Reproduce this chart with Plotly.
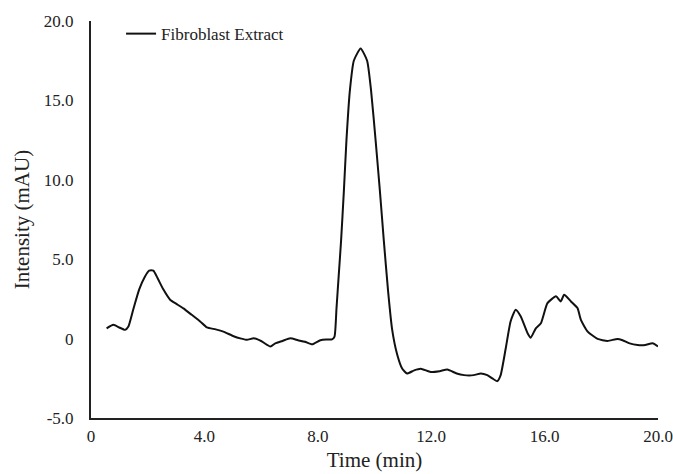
import plotly.graph_objects as go

series_name = "Fibroblast Extract"
time_min = [0.55, 0.79, 1.0, 1.2, 1.32, 1.5, 1.7, 1.9, 2.05, 2.2, 2.35, 2.55, 2.79, 3.0, 3.26, 3.55,
            3.85, 4.09, 4.4, 4.67, 5.03, 5.3, 5.5, 5.74, 6.0, 6.33, 6.5, 6.75, 7.03, 7.3, 7.55, 7.8,
            8.09, 8.3, 8.5, 8.59, 8.66, 8.74, 8.82, 8.92, 9.01, 9.13, 9.27, 9.51, 9.74, 9.88,
            10.04, 10.19, 10.33, 10.48, 10.62, 10.8, 10.98, 11.15, 11.4, 11.63, 11.98, 12.3, 12.57,
            12.9, 13.16, 13.5, 13.75, 13.98, 14.16, 14.33, 14.45, 14.63, 14.8, 14.98, 15.16, 15.4,
            15.51, 15.69, 15.87, 16.1, 16.4, 16.57, 16.69, 16.93, 17.16, 17.28, 17.52, 17.87, 18.22,
            18.57, 18.75, 19.0, 19.28, 19.55, 19.81, 20.0]
intensity = [0.65, 0.87, 0.7, 0.55, 0.76, 1.9, 3.1, 3.9, 4.28, 4.28, 3.8, 3.1, 2.45, 2.2, 1.9, 1.5,
             1.08, 0.7, 0.58, 0.44, 0.15, 0.0, -0.08, 0.02, -0.15, -0.5, -0.3, -0.15, 0.02, -0.1, -0.2, -0.36,
             -0.1, -0.05, -0.05, 0.13, 1.92, 4.03, 6.14, 9.3, 12.47, 15.6, 17.5, 18.27, 17.5, 15.6,
             12.47, 9.3, 6.14, 2.97, 0.6, -1.0, -1.9, -2.2, -2.0, -1.9, -2.1, -2.05, -1.95,
             -2.2, -2.3, -2.3, -2.19, -2.3, -2.51, -2.68, -2.3, -0.61, 1.08, 1.82, 1.39, 0.34,
             0.06, 0.65, 0.97, 2.23, 2.66, 2.34, 2.76, 2.34, 1.92, 1.18, 0.44, -0.02, -0.15,
             -0.02, -0.1, -0.3, -0.4, -0.4, -0.3, -0.5]
x_ticks = [0, 4, 8, 12, 16, 20]
x_tick_labels = ["0", "4.0", "8.0", "12.0", "16.0", "20.0"]
y_ticks = [-5, 0, 5, 10, 15, 20]
y_tick_labels = ["-5.0", "0", "5.0", "10.0", "15.0", "20.0"]

font_family = "Liberation Serif, Times New Roman, serif"

fig = go.Figure()
fig.add_trace(go.Scatter(x=time_min, y=intensity, mode="lines", name=series_name,
                         line=dict(color="#111111", width=2, shape="spline", smoothing=0.5)))

fig.update_layout(
    width=673, height=474,
    margin=dict(l=91, r=15, t=21, b=56),
    paper_bgcolor="white", plot_bgcolor="white",
    font=dict(family=font_family, size=17, color="#222222"),
    showlegend=True,
    legend=dict(x=0.053, y=1.0124, xanchor="left", yanchor="top", bgcolor="rgba(0,0,0,0)",
                font=dict(size=17, family=font_family, color="#222222"), itemwidth=30),
    xaxis=dict(range=[0, 20], tickvals=x_ticks, ticktext=x_tick_labels, showgrid=False,
               zeroline=False, showline=True, linecolor="#222222", linewidth=2, ticks="",
               ticklabelstandoff=2, automargin=False, tickfont=dict(size=17),
               title=dict(text="Time (min)", font=dict(size=21, family=font_family), standoff=7)),
    yaxis=dict(range=[-5, 20], tickvals=y_ticks, ticktext=y_tick_labels, showgrid=False,
               zeroline=False, showline=True, linecolor="#222222", linewidth=2, ticks="",
               ticklabelstandoff=12, automargin=False, tickfont=dict(size=17),
               title=dict(text="Intensity (mAU)", font=dict(size=21, family=font_family), standoff=8)),
)

# remove the page's default 8px body margin so the 673x474 figure fills the window exactly
fig.write_html("out.html", config={"displayModeBar": False},
               post_script="document.body.style.margin='0';")
